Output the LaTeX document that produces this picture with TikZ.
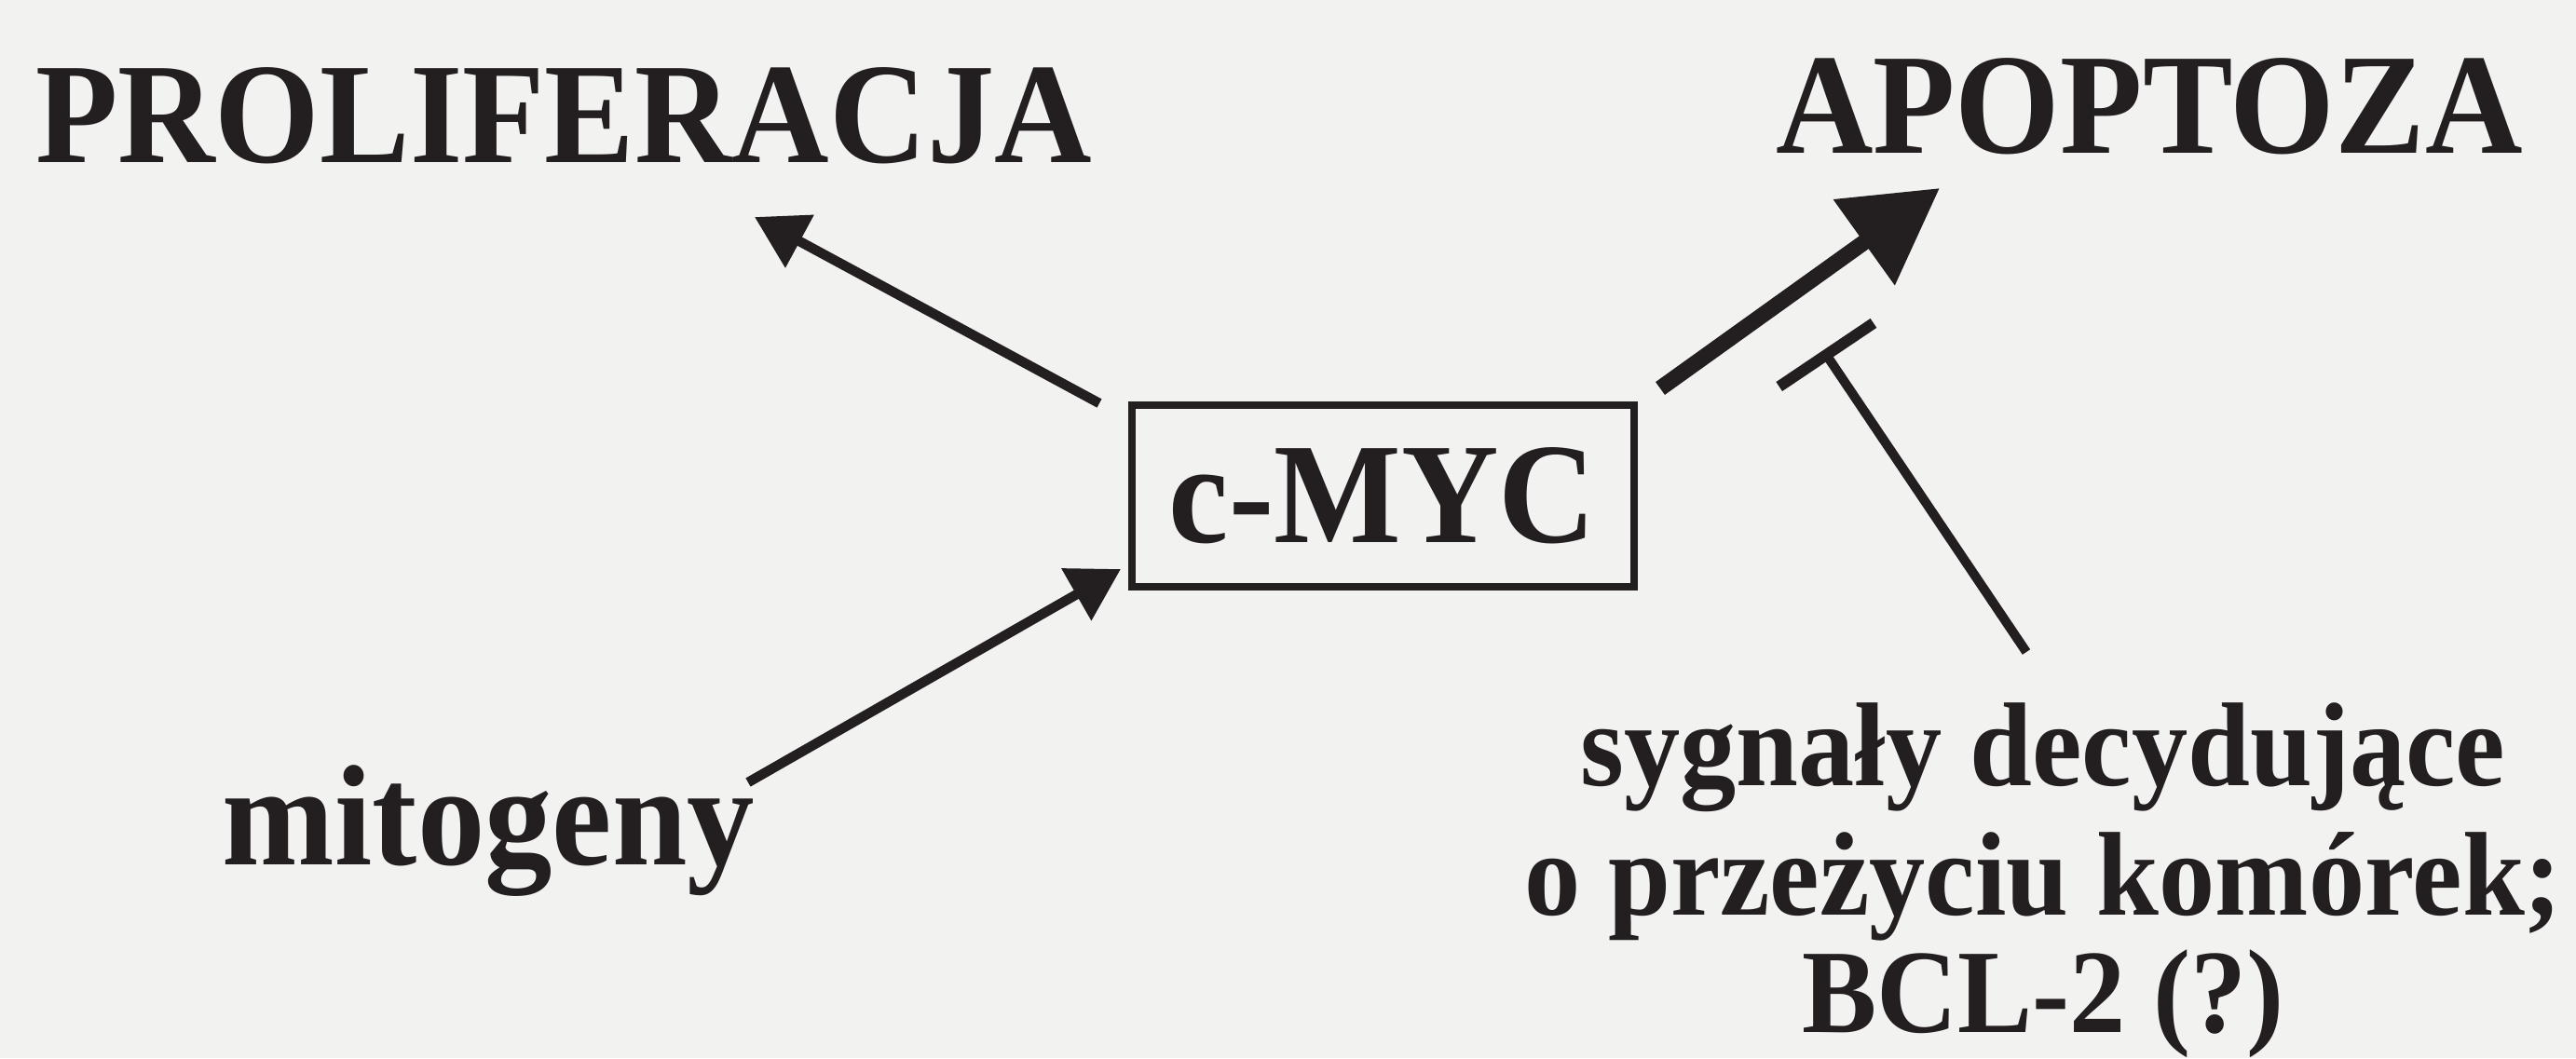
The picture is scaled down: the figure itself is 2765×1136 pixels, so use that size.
\documentclass[tikz,border=0pt]{standalone}
\usepackage{fontspec}
\setmainfont{Liberation Serif}[FakeStretch=0.94]
\usetikzlibrary{arrows.meta}
\definecolor{ink}{RGB}{35,30,32}
\definecolor{paper}{RGB}{242,242,241}
\begin{document}
\begin{tikzpicture}[x=0.2pt,y=-0.2pt,
  big/.style={inner sep=0pt, text=ink, font=\fontsize{30.8}{36}\selectfont\bfseries},
  small/.style={inner sep=0pt, text=ink, font=\fontsize{25.6}{30}\selectfont\bfseries},
  mycbox/.style={draw=ink, line width=1.6pt, minimum width=107.8pt, minimum height=39pt, inner sep=0pt},
  thinarrow/.style={draw=ink, line width=2.1pt, -{Triangle[length=11pt,width=12.4pt]}},
  thickarrow/.style={draw=ink, line width=3.4pt, -{Triangle[length=20pt,width=21.8pt]}},
  inhib/.style={draw=ink, line width=2pt, -{Bar[width=24.4pt,line width=2.4pt]}}]
\fill[paper] (0,0) rectangle (2765,1136);
\useasboundingbox (0,0) rectangle (2765,1136);

% nodes
\node[big, anchor=base west] (prolif) at (37,174) {PROLIFERACJA};
\node[big, anchor=base west] (apop) at (1905,164) {APOPTOZA};
\node[big, mycbox] (myc) at (1484,532) {c-MYC};
\node[big, anchor=base west] (mito) at (238,928) {mitogeny};
\node[small, anchor=base] (sig1) at (2193,843) {sygnały decydujące};
\node[small, anchor=base] (sig2) at (2193,982) {o przeżyciu komórek;};
\node[small, anchor=base] (sig3) at (2193,1108) {BCL-2 (?)};

% connector end points
\coordinate (pS) at (1180,433);
\coordinate (pT) at (810,233);
\coordinate (mS) at (803,840);
\coordinate (mT) at (1203,611);
\coordinate (aS) at (1782,417);
\coordinate (aT) at (2082,202);
\coordinate (tS) at (2175,700);
\coordinate (tT) at (1957,376);

% connectors
\draw[thinarrow] (pS) -- (pT);
\draw[thinarrow] (mS) -- (mT);
\draw[thickarrow] (aS) -- (aT);
\draw[inhib] (tS) -- (tT);
\end{tikzpicture}
\end{document}
